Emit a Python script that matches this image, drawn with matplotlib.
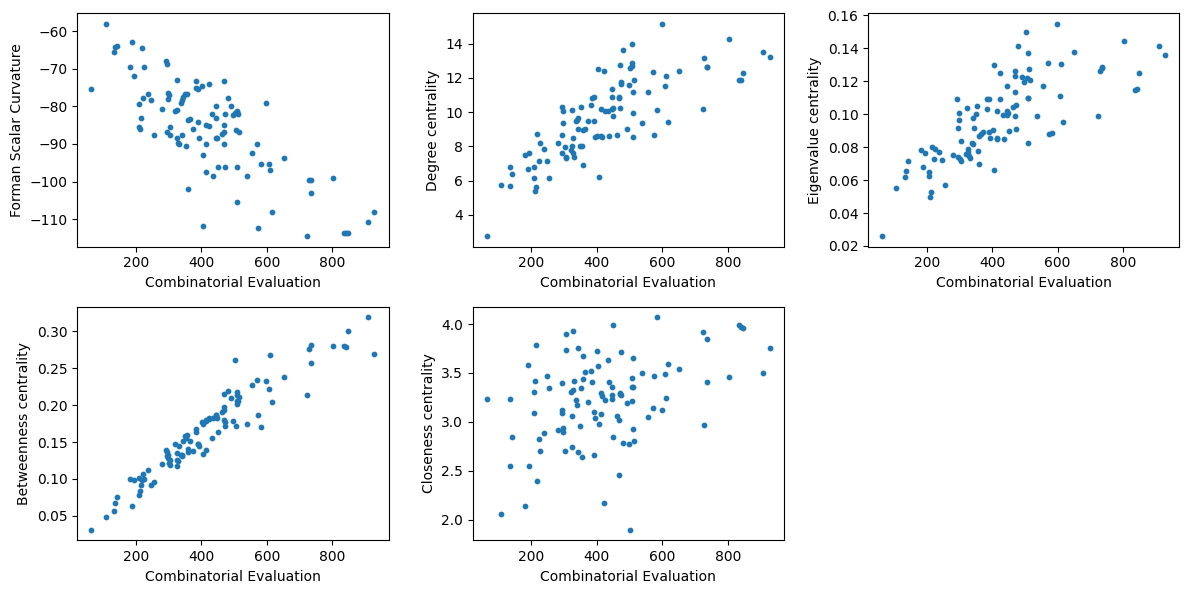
import matplotlib
matplotlib.use('Agg')
import matplotlib.pyplot as plt

# shared x values (one per node)
comb_eval = [64, 107, 134, 136, 142, 182, 189, 194, 208, 208,
             211, 214, 217, 223, 226, 238, 247, 255, 281, 293,
             295, 295, 298, 302, 298, 305, 305, 320, 324, 325,
             327, 328, 331, 337, 340, 342, 343, 350, 352, 355,
             359, 359, 365, 373, 383, 384, 391, 391, 394, 402,
             405, 406, 414, 414, 415, 423, 424, 433, 437, 445,
             446, 446, 448, 451, 463, 469, 469, 470, 470, 473,
             473, 480, 492, 497, 502, 507, 508, 509, 510, 510,
             512, 514, 538, 555, 571, 574, 583, 598, 608, 611,
             617, 651, 724, 729, 736, 736, 803, 836, 842, 847,
             909, 929]

forman = [-75.5, -58, -65.5, -64.2, -64, -69.4, -63, -71.8, -79.3, -85.6,
          -86, -83.1, -64.4, -77.7, -69.4, -76.6, -78.2, -87.5, -80.8, -67.9,
          -68.8, -86.9, -76.4, -77, -78, -85.6, -87.6, -81.3, -72.9, -88.5,
          -80.9, -89.8, -90, -79, -78.2, -87.7, -77.5, -76.6, -90.6, -76.6,
          -83.5, -102, -83.4, -85.9, -75, -73.2, -75.5, -84.2, -88.5, -74.5,
          -93, -111.9, -97.5, -90.1, -84.9, -85.2, -74, -81.9, -98.6, -88.3,
          -79.9, -83.1, -88.4, -96.2, -87.3, -86.8, -89.9, -73.3, -84.9, -81.9,
          -96.2, -77.7, -79.9, -82.3, -81.8, -86.3, -81.5, -96.2, -105.5, -81.1,
          -82, -86.9, -98.6, -92.5, -90.1, -112.4, -95.4, -79, -95.4, -96.8,
          -108.1, -93.8, -114.5, -99.7, -99.7, -103.1, -99.1, -113.7, -113.7, -113.7,
          -110.8, -108.1]

degree = [2.76, 5.73, 5.67, 6.78, 6.37, 7.48, 6.66, 7.59, 6.14, 6.78,
          5.38, 5.61, 8.70, 7.13, 8.17, 7.83, 7.13, 6.14, 8.17, 10.33,
          8.64, 7.59, 10.06, 7.94, 9.34, 7.36, 7.30, 7.79, 10.10, 8.04,
          8.47, 7.60, 7.36, 9.46, 9.55, 9.04, 9.65, 8.04, 10.33, 8.00,
          8.95, 6.91, 9.01, 9.46, 10.44, 10.85, 10.89, 9.46, 8.54, 8.58,
          12.54, 6.19, 10.17, 8.58, 8.54, 12.43, 10.06, 10.06, 8.58, 10.17,
          11.34, 10.89, 10.23, 9.77, 8.64, 10.89, 10.85, 12.78, 10.27, 11.63,
          11.75, 13.65, 8.99, 11.61, 12.60, 14.0, 12.72, 12.89, 11.18, 9.98,
          8.54, 11.9, 9.34, 11.18, 12.33, 8.64, 10.1, 15.17, 11.5, 12.14,
          9.44, 12.43, 10.16, 13.18, 12.62, 12.62, 14.29, 11.88, 11.9, 12.31,
          13.53, 13.24]

eigen = [0.026, 0.055, 0.0617, 0.0653, 0.0714, 0.078, 0.0678, 0.0763, 0.0625, 0.0647,
         0.0496, 0.0526, 0.0799, 0.073, 0.0789, 0.0768, 0.072, 0.0569, 0.0752, 0.109,
         0.0914, 0.0738, 0.1005, 0.0726, 0.0968, 0.0714, 0.0835, 0.0756, 0.104, 0.0768,
         0.0787, 0.0748, 0.0732, 0.0823, 0.0976, 0.0819, 0.0914, 0.0999, 0.1051, 0.0775,
         0.0867, 0.0696, 0.0879, 0.089, 0.103, 0.109, 0.109, 0.089, 0.0853, 0.0902,
         0.130, 0.066, 0.1019, 0.0858, 0.0847, 0.1249, 0.1095, 0.0994, 0.0847, 0.1017,
         0.1174, 0.0994, 0.1005, 0.0896, 0.1047, 0.126, 0.1235, 0.1138, 0.0987, 0.091,
         0.1055, 0.1416, 0.1225, 0.1194, 0.150, 0.1223, 0.1374, 0.110, 0.110, 0.0825,
         0.1277, 0.121, 0.0992, 0.1174, 0.1313, 0.0878, 0.0884, 0.155, 0.1108, 0.1307,
         0.0954, 0.1378, 0.0987, 0.126, 0.128, 0.1285, 0.1447, 0.115, 0.1155, 0.1253,
         0.1416, 0.1362]

betweenness = [0.0315, 0.049, 0.057, 0.067, 0.075, 0.100, 0.064, 0.099, 0.102, 0.079,
               0.084, 0.092, 0.098, 0.107, 0.100, 0.112, 0.092, 0.096, 0.120, 0.139,
               0.137, 0.131, 0.128, 0.121, 0.133, 0.126, 0.119, 0.147, 0.126, 0.118,
               0.135, 0.125, 0.144, 0.132, 0.133, 0.131, 0.152, 0.158, 0.155, 0.159,
               0.141, 0.137, 0.152, 0.138, 0.163, 0.168, 0.148, 0.147, 0.145, 0.177,
               0.134, 0.175, 0.139, 0.178, 0.180, 0.181, 0.182, 0.156, 0.183, 0.187,
               0.184, 0.186, 0.182, 0.164, 0.190, 0.194, 0.215, 0.198, 0.180, 0.177,
               0.172, 0.219, 0.209, 0.178, 0.261, 0.172, 0.218, 0.214, 0.206, 0.202,
               0.205, 0.211, 0.175, 0.227, 0.234, 0.187, 0.171, 0.233, 0.222, 0.268,
               0.204, 0.238, 0.214, 0.276, 0.282, 0.257, 0.280, 0.280, 0.279, 0.300,
               0.319, 0.269]

closeness = [3.235, 2.06, 3.235, 2.55, 2.847, 2.143, 3.582, 2.55, 3.306, 3.092,
             3.418, 3.786, 2.398, 2.827, 2.704, 2.888, 3.469, 3.347, 2.918, 3.398,
             3.122, 3.092, 2.939, 2.704, 2.898, 3.898, 3.735, 3.306, 3.061, 2.745,
             3.327, 3.929, 3.418, 3.224, 3.173, 2.694, 3.755, 2.959, 3.347, 2.643,
             3.439, 3.673, 3.51, 3.204, 3.52, 3.408, 2.663, 3.102, 3.041, 3.724,
             3.571, 2.98, 3.082, 3.296, 3.265, 2.173, 3.224, 3.633, 3.408, 3.357,
             3.276, 3.235, 2.847, 3.99, 3.061, 3.02, 2.459, 3.296, 3.28, 3.714,
             3.276, 2.786, 3.194, 2.776, 1.898, 3.449, 3.357, 3.214, 2.929, 3.36,
             3.653, 2.806, 3.5, 3.051, 3.143, 3.469, 4.071, 3.122, 3.49, 3.245,
             3.592, 3.541, 3.918, 2.969, 3.847, 3.408, 3.459, 3.99, 3.97, 3.959,
             3.5, 3.755]

series = [forman, degree, eigen, betweenness, closeness]
ylabels = ["Forman Scalar Curvature", "Degree centrality", "Eigenvalue centrality",
           "Betweenness centrality", "Closeness centrality"]

fig, axes = plt.subplots(2, 3, figsize=(11.89, 5.93), dpi=100)
axes = axes.flatten()
for ax, ys, lab in zip(axes, series, ylabels):
    ax.scatter(comb_eval, ys, s=10, color='#1f77b4')
    ax.set_xlabel("Combinatorial Evaluation")
    ax.set_ylabel(lab)
axes[5].remove()

plt.subplots_adjust(left=0.065, right=0.992, top=0.978, bottom=0.089,
                    wspace=0.27, hspace=0.256)
plt.savefig("out.png", dpi=100)
